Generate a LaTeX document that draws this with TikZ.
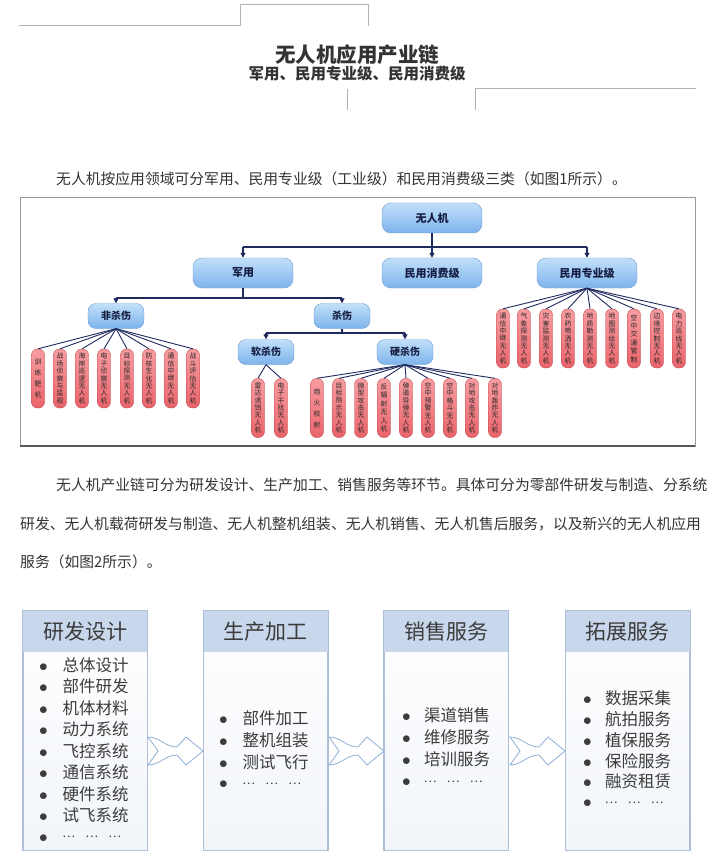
\documentclass[tikz,border=0pt]{standalone}
\usepackage{fontspec}
\setmainfont{Noto Sans CJK SC}
\usepackage{xcolor}
\usepackage{tikz}
\usetikzlibrary{arrows.meta}

\definecolor{navy}{HTML}{1F2B5E}
\definecolor{skytop}{HTML}{C2E0FA}
\definecolor{skybot}{HTML}{7DB3EC}
\definecolor{skyline}{HTML}{6C9BD2}
\definecolor{rosetop}{HTML}{F89DA1}
\definecolor{rosebot}{HTML}{E9646B}
\definecolor{roseline}{HTML}{C8464E}
\definecolor{bandblue}{HTML}{C8D7EB}
\definecolor{paneline}{HTML}{AFC0D6}
\definecolor{chevline}{HTML}{8FB0D3}
\definecolor{inkgray}{HTML}{333333}
\definecolor{songgray}{HTML}{3C3C3C}

\newcommand\vlabel[2][7.4pt]{\vbox{\baselineskip=#1\expandafter\vlabelx#2\relax}}
\def\vlabelx#1{\ifx#1\relax\else\hbox{#1}\expandafter\vlabelx\fi}
\newcommand\dotgroup{\raisebox{4.5pt}[10pt][0pt]{\makebox[12pt][c]{\fontsize{12}{12}\selectfont …}}}
\newcommand\etcdots{\dotgroup\hspace{11pt}\dotgroup\hspace{11pt}\dotgroup}

\tikzset{
  frameline/.style={draw=black!30, line width=1pt},
  para/.style={inner sep=0pt, anchor=west, text=inkgray, font=\fontsize{14.8}{18}\selectfont},
  bluebox/.style={draw=skyline, rounded corners=9pt, top color=skytop, bottom color=skybot,
    minimum width=100pt, minimum height=30pt, inner sep=0pt, text=navy!70!black,
    font=\bfseries\fontsize{11}{12}\selectfont},
  smallbox/.style={bluebox, rounded corners=8pt, minimum width=56pt, minimum height=25pt,
    font=\bfseries\fontsize{10}{11}\selectfont},
  leaf/.style={draw=roseline, rounded corners=6pt, top color=rosetop, bottom color=rosebot,
    minimum width=13pt, minimum height=59pt, inner sep=0pt, text=black!85,
    font=\fontsize{6.8}{7}\selectfont},
  bus/.style={draw=navy, line width=1.3pt},
  busarrow/.style={bus, -{Triangle[width=5pt,length=5pt]}},
  twig/.style={draw=navy, line width=0.9pt},
  pane/.style={draw=paneline, line width=0.8pt, top color=white, bottom color=bandblue!25,
    minimum width=124pt, minimum height=239pt, inner sep=0pt},
  panehead/.style={inner sep=0pt, text=songgray, font=\fontsize{21}{22}\selectfont},
  item/.style={inner sep=0pt, anchor=west, text=songgray, font=\fontsize{16.5}{18}\selectfont},
  chevron/.style={draw=chevline, line width=0.8pt, fill=white}
}

\begin{document}
\begin{tikzpicture}[x=1pt,y=-1pt]
\useasboundingbox (0,0) rectangle (713,866);

% header
\draw[frameline] (19,26) -- (240,26) -- (240,5) -- (368,5) -- (368,26);
\draw[frameline] (347,110) -- (347,89);
\draw[frameline] (475,110) -- (475,89) -- (696,89);
\node[inner sep=0pt, text=inkgray, font=\bfseries\fontsize{20.5}{22}\selectfont] (title) at (357,55) {无人机应用产业链};
\node[inner sep=0pt, text=inkgray, font=\bfseries\fontsize{15.5}{17}\selectfont] (subtitle) at (357,74) {军用、民用专业级、民用消费级};

\node[para] (intro) at (56,179) {无人机按应用领域可分军用、民用专业级（工业级）和民用消费级三类（如图1所示）。};

% figure 1
\draw[black!40, line width=1pt] (20,198) rectangle (695,446);
\draw[black!65, line width=2pt] (20,446) -- (695,446);

\node[bluebox] (root) at (432,218) {无人机};
\node[bluebox] (mil) at (243,273) {军用};
\node[bluebox] (civc) at (432,273) {民用消费级};
\node[bluebox] (civp) at (587,273) {民用专业级};
\node[smallbox] (nonk) at (116,316) {非杀伤};
\node[smallbox] (kill) at (342,316) {杀伤};
\node[smallbox] (soft) at (266,352) {软杀伤};
\node[smallbox] (hard) at (405,352) {硬杀伤};

\coordinate (bar1) at (0,247);
\coordinate (bar2) at (0,298);
\coordinate (bar3) at (0,333);
\draw[bus] (root.south) -- (root.south |- bar1);
\draw[bus] (mil.north |- bar1) -- (civp.north |- bar1);
\foreach \n in {mil,civc,civp}
  \draw[busarrow] (\n.north |- bar1) -- (\n.north);
\draw[bus] (mil.south) -- (mil.south |- bar2);
\draw[bus] (nonk.north |- bar2) -- (kill.north |- bar2);
\foreach \n in {nonk,kill}
  \draw[busarrow] (\n.north |- bar2) -- (\n.north);
\draw[bus] (kill.south) -- (kill.south |- bar3);
\draw[bus] (soft.north |- bar3) -- (hard.north |- bar3);
\foreach \n in {soft,hard}
  \draw[busarrow] (\n.north |- bar3) -- (\n.north);

% leaves
\foreach \x/\t/\s [count=\i] in {38/训练靶机/11pt, 60/战场侦察与监视/7.4pt, 82/海岸巡逻无人机/7.4pt,
    104/电子侦察无人机/7.4pt, 127/目标探测无人机/7.4pt, 149/防核生化无人机/7.4pt,
    171/通信中继无人机/7.4pt, 193/战斗评估无人机/7.4pt} {
  \node[leaf] (a\i) at (\x,378.5) {\vlabel[\s]{\t}};
  \draw[twig] (nonk.south) -- (a\i.north);
}
\foreach \x/\t [count=\i] in {258/雷达诱饵无人机, 281/电子干扰无人机} {
  \node[leaf] (b\i) at (\x,408) {\vlabel{\t}};
  \draw[twig] (soft.south) -- (b\i.north);
}
\foreach \x/\t/\s [count=\i] in {317/炮火校射/11pt, 339/目标指示无人机/7.4pt, 361/微型攻击无人机/7.4pt,
    384/反辐射无人机/8.4pt, 406/弹道导弹无人机/7.4pt, 428/空中预警无人机/7.4pt,
    450/空中格斗无人机/7.4pt, 472/对地攻击无人机/7.4pt, 495/对地轰炸无人机/7.4pt} {
  \node[leaf] (c\i) at (\x,408) {\vlabel[\s]{\t}};
  \draw[twig] (hard.south) -- (c\i.north);
}
\foreach \x/\t/\s [count=\i] in {503/通信中继无人机/7.4pt, 524/气象探测无人机/7.4pt, 546/灾害监测无人机/7.4pt,
    568/农药喷洒无人机/7.4pt, 590/地质勘测无人机/7.4pt, 612/地图测绘无人机/7.4pt,
    634/空中交通管制/8.4pt, 657/边境控制无人机/7.4pt, 679/电力巡线无人机/7.4pt} {
  \node[leaf] (d\i) at (\x,338.5) {\vlabel[\s]{\t}};
  \draw[twig] (civp.south) -- (d\i.north);
}

\node[para] (chain1) at (56,485) {无人机产业链可分为研发设计、生产加工、销售服务等环节。具体可分为零部件研发与制造、分系统};
\node[para] (chain2) at (20,524) {研发、无人机载荷研发与制造、无人机整机组装、无人机销售、无人机售后服务，以及新兴的无人机应用};
\node[para] (chain3) at (20,562) {服务（如图2所示）。};

% figure 2
\foreach \n/\cx/\h in {p1/85/研发设计, p2/265.5/生产加工, p3/446/销售服务, p4/627.5/拓展服务} {
  \node[pane] (\n) at (\cx,730.5) {};
  \fill[bandblue] (\n.north west) rectangle ([yshift=-41pt]\n.north east);
  \draw[paneline, line width=0.8pt] (\n.north west) rectangle (\n.south east);
  \node[panehead] (\n h) at ([yshift=-20.5pt]\n.north) {\h};
}
\foreach \t [count=\i] in {总体设计, 部件研发, 机体材料, 动力系统, 飞控系统, 通信系统, 硬件系统, 试飞系统, \etcdots}
  \node[item] (q1\i) at (39,665+21.5*\i-21.5) {\makebox[23.5pt][l]{$\bullet$}\t};
\foreach \t [count=\i] in {部件加工, 整机组装, 测试飞行, \etcdots}
  \node[item] (q2\i) at (219,718.5+21.7*\i-21.7) {\makebox[23.5pt][l]{$\bullet$}\t};
\foreach \t [count=\i] in {渠道销售, 维修服务, 培训服务, \etcdots}
  \node[item] (q3\i) at (402,715.5+22*\i-22) {\makebox[22pt][l]{$\bullet$}\t};
\foreach \t [count=\i] in {数据采集, 航拍服务, 植保服务, 保险服务, 融资租赁, \etcdots}
  \node[item] (q4\i) at (583,698+20.9*\i-20.9) {\makebox[22pt][l]{$\bullet$}\t};

\foreach \a in {148,329,510}
  \draw[chevron] (\a,737) to[out=0,in=180] (\a+29,747) -- (\a+38,737) -- (\a+55,751)
    -- (\a+38,765) -- (\a+29,755) to[out=180,in=0] (\a,765) -- (\a+10,751) -- cycle;
\end{tikzpicture}
\end{document}
